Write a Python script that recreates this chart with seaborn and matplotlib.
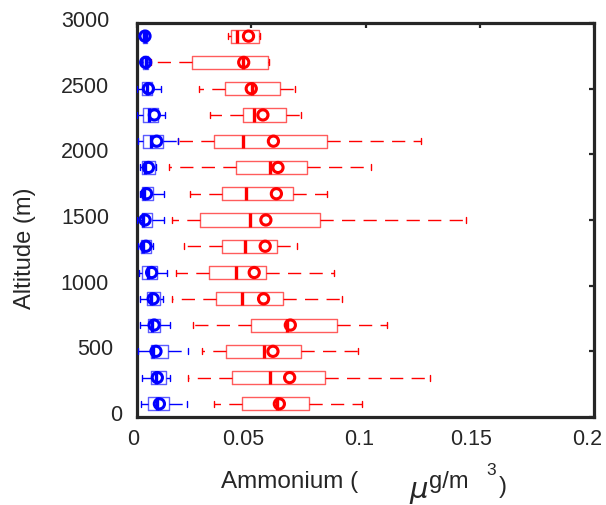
import numpy as np
import pandas as pd
import matplotlib
matplotlib.use("Agg")
import matplotlib.pyplot as plt
from matplotlib.transforms import ScaledTranslation
import seaborn as sns

# Altitude bins (bin centres, m)
altitude = [100, 300, 500, 700, 900, 1100, 1300, 1500, 1700, 1900,
            2100, 2300, 2500, 2700, 2900]

# Red series: five-number summary plus mean per altitude bin (ug/m3)
red_min = [0.0335, 0.0225, 0.0284, 0.0247, 0.0152, 0.0170, 0.0206, 0.0152,
           0.0232, 0.0142, 0.0180, 0.0320, 0.0273, 0.0060, 0.0400]
red_q1 = [0.0459, 0.0415, 0.0389, 0.0499, 0.0346, 0.0317, 0.0371, 0.0276,
          0.0374, 0.0433, 0.0337, 0.0466, 0.0386, 0.0240, 0.0411]
red_med = [0.0613, 0.0583, 0.0554, 0.0657, 0.0461, 0.0434, 0.0471, 0.0496,
           0.0477, 0.0580, 0.0462, 0.0513, 0.0505, 0.0465, 0.0437]
red_mean = [0.0623, 0.0668, 0.0595, 0.0671, 0.0554, 0.0513, 0.0561, 0.0564,
            0.0610, 0.0617, 0.0597, 0.0551, 0.0500, 0.0467, 0.0488]
red_q3 = [0.0754, 0.0822, 0.0719, 0.0876, 0.0639, 0.0564, 0.0614, 0.0800,
          0.0681, 0.0744, 0.0830, 0.0650, 0.0627, 0.0572, 0.0535]
red_max = [0.0986, 0.1282, 0.0966, 0.1095, 0.0895, 0.0864, 0.0700, 0.1439,
           0.0832, 0.1022, 0.1245, 0.0718, 0.0690, 0.0576, 0.0538]

# Blue series
blue_min = [0.0016, 0.0020, 0.0003, 0.0013, 0.0013, 0.0008, 0.0006, 0.0002,
            0.0013, 0.0013, 0.0005, 0.0002, 0.0002, 0.0020, 0.0025]
blue_q1 = [0.0050, 0.0060, 0.0060, 0.0050, 0.0042, 0.0020, 0.0018, 0.0020,
           0.0020, 0.0020, 0.0025, 0.0025, 0.0022, 0.0028, 0.0028]
blue_med = [0.0086, 0.0083, 0.0072, 0.0064, 0.0060, 0.0050, 0.0028, 0.0028,
            0.0031, 0.0035, 0.0060, 0.0053, 0.0042, 0.0038, 0.0035]
blue_mean = [0.0098, 0.0089, 0.0083, 0.0075, 0.0071, 0.0064, 0.0039, 0.0035,
             0.0042, 0.0050, 0.0086, 0.0076, 0.0050, 0.0038, 0.0035]
blue_q3 = [0.0142, 0.0127, 0.0137, 0.0100, 0.0100, 0.0086, 0.0060, 0.0064,
           0.0072, 0.0079, 0.0115, 0.0092, 0.0066, 0.0050, 0.0042]
blue_max = [0.0218, 0.0145, 0.0225, 0.0145, 0.0112, 0.0130, 0.0068, 0.0120,
            0.0120, 0.0082, 0.0178, 0.0123, 0.0105, 0.0055, 0.0045]

x_ticks = [0, 0.05, 0.1, 0.15, 0.2]
x_ticklabels = ["0", "0.05", "0.1", "0.15", "0.2"]
y_ticks = [0, 500, 1000, 1500, 2000, 2500, 3000]
y_ticklabels = ["0", "500", "1000", "1500", "2000", "2500", "3000"]

sns.set_theme(style="white")
plt.rcParams["font.family"] = ["Liberation Sans", "DejaVu Sans"]

DPI = 100
W, H = 606, 506
fig = plt.figure(figsize=(W / DPI, H / DPI), dpi=DPI)
ax = fig.add_axes([137 / W, 1 - 418 / H, (594 - 137) / W, (418 - 24) / H])


def make_stats(lo, q1, med, q3, hi):
    return [dict(whislo=a, q1=b, med=c, q3=d, whishi=e, fliers=[])
            for a, b, c, d, e in zip(lo, q1, med, q3, hi)]


dash = (0, (9.5, 6.0))


def draw_boxes(stats, edge, line, z):
    ax.bxp(stats, positions=altitude, widths=100, orientation="horizontal",
           showfliers=False, manage_ticks=False, capwidths=46,
           boxprops=dict(color=edge, linewidth=1.0),
           whiskerprops=dict(color=line, linewidth=1.0, linestyle=dash),
           capprops=dict(color=line, linewidth=1.0),
           medianprops=dict(color=line, linewidth=2.4, solid_capstyle="butt"),
           zorder=z)


draw_boxes(make_stats(red_min, red_q1, red_med, red_q3, red_max),
           "#ff5c5c", "#ff0000", 2)
draw_boxes(make_stats(blue_min, blue_q1, blue_med, blue_q3, blue_max),
           "#5c5cff", "#0000ff", 3)

means = pd.DataFrame({
    "altitude": altitude * 2,
    "mean": red_mean + blue_mean,
    "series": ["red"] * len(altitude) + ["blue"] * len(altitude),
})
for name, col in [("red", "#ff0000"), ("blue", "#0000ff")]:
    sub = means[means["series"] == name]
    sns.scatterplot(data=sub, x="mean", y="altitude", ax=ax, marker="o", s=54,
                    facecolors="none", edgecolor=col, color=col,
                    linewidth=2.2, zorder=5, legend=False)

ax.set_xlim(0, 0.2)
ax.set_ylim(0, 3000)
ax.set_xlabel("")
ax.set_ylabel("")
ax.set_xticks(x_ticks)
ax.set_xticklabels(x_ticklabels)
ax.set_yticks(y_ticks)
ax.set_yticklabels(y_ticklabels)

for s in ax.spines.values():
    s.set_visible(True)
    s.set_color("#262626")
    s.set_linewidth(2.3)
ax.tick_params(axis="both", which="major", direction="in", top=True,
               right=True, length=3.8, width=1.6, color="#262626",
               labelsize=15.5, labelcolor="#262626")
ax.tick_params(axis="x", pad=8.0)
ax.tick_params(axis="y", pad=10.8)

# nudge tick labels the way the original renderer placed them
for lab in ax.get_yticklabels():
    n = len(lab.get_text())
    off = ScaledTranslation(-4.3 * (n - 1) / DPI, 5 / DPI, fig.dpi_scale_trans)
    lab.set_transform(lab.get_transform() + off)
for lab in ax.get_xticklabels():
    n = len(lab.get_text())
    off = ScaledTranslation(-(2 + 1.6 * n) / DPI, 0, fig.dpi_scale_trans)
    lab.set_transform(lab.get_transform() + off)

tc = "#262626"
# axis titles
fig.text(25 / W, 1 - 248 / H, "Altitude (m)", rotation=90, ha="center",
         va="center", fontsize=17, color=tc)
fig.text(221 / W, 1 - 488 / H, "Ammonium (", ha="left", va="baseline",
         fontsize=17.5, color=tc)
fig.text(409 / W, 1 - 498 / H, r"$\mu$", ha="left", va="baseline",
         fontsize=21, color=tc)
fig.text(429 / W, 1 - 488 / H, "g/m", ha="left", va="baseline",
         fontsize=17, color=tc)
fig.text(486 / W, 1 - 475 / H, "3", ha="left", va="baseline",
         fontsize=12.5, color=tc)
fig.text(499 / W, 1 - 493 / H, ")", ha="left", va="baseline",
         fontsize=17, color=tc)

fig.savefig("out.png", dpi=DPI)
